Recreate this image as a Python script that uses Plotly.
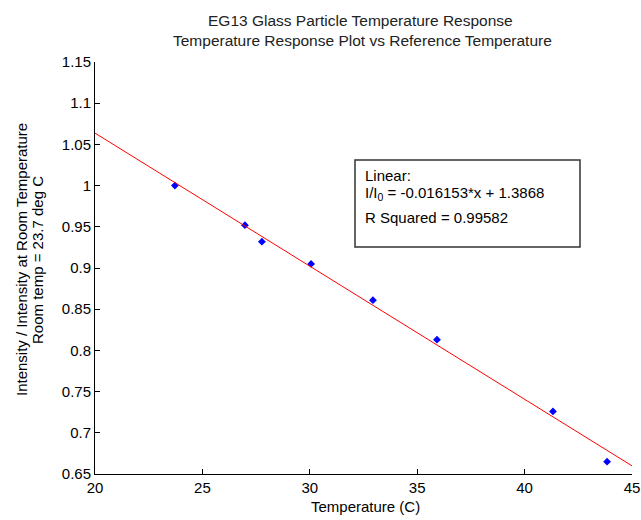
import plotly.graph_objects as go

# Data
temperature_c = [23.72, 26.98, 27.77, 30.06, 32.94, 35.92, 41.32, 43.84]
intensity_ratio = [1.000, 0.952, 0.932, 0.905, 0.861, 0.813, 0.726, 0.665]

fit_slope = -0.016153
fit_intercept = 1.3868
fit_r2 = 0.99582
fit_x = [20, 45]
fit_y = [fit_slope * x + fit_intercept for x in fit_x]

x_tick_vals = [20, 25, 30, 35, 40, 45]
x_tick_text = ["20", "25", "30", "35", "40", "45"]
y_tick_vals = [0.65, 0.7, 0.75, 0.8, 0.85, 0.9, 0.95, 1.0, 1.05, 1.1, 1.15]
y_tick_text = ["0.65", "0.7", "0.75", "0.8", "0.85", "0.9", "0.95", "1", "1.05", "1.1", "1.15"]

FONT = "Liberation Sans, Arial, sans-serif"

W, H = 641, 520
# plot area in window pixels
AX_L, AX_R, AX_T, AX_B = 95, 632, 62, 474
L, R, T, B = AX_L, W - AX_R, AX_T, H - AX_B
pw = AX_R - AX_L
ph = AX_B - AX_T

def px2paper_x(px):
    return (px - AX_L) / pw

def px2paper_y(py):
    return (AX_B - py) / ph

fig = go.Figure()
fig.add_trace(go.Scatter(x=temperature_c, y=intensity_ratio, mode="markers",
                         marker=dict(symbol="diamond", size=6, color="#0000ff"),
                         showlegend=False))
fig.add_trace(go.Scatter(x=fit_x, y=fit_y, mode="lines",
                         line=dict(color="#ff0000", width=1),
                         showlegend=False))

fig.add_shape(type="rect", xref="paper", yref="paper",
              x0=px2paper_x(355), x1=px2paper_x(580),
              y0=px2paper_y(247), y1=px2paper_y(160),
              line=dict(color="#333333", width=1.5), fillcolor="white", layer="above")

legend_lines = [
    ("Linear:", 175),
    ("I/I<sub>0</sub> = %.6f*x + %.4f" % (fit_slope, fit_intercept), 193),
    ("R Squared = %.5f" % fit_r2, 217),
]
for txt, py in legend_lines:
    fig.add_annotation(xref="paper", yref="paper", x=px2paper_x(363), y=px2paper_y(py),
                       text=txt, showarrow=False, xanchor="left", yanchor="middle",
                       font=dict(family=FONT, size=15, color="#000000"))

# y-axis title as two annotation lines
fig.add_annotation(xref="paper", yref="paper", x=px2paper_x(21), y=px2paper_y(260),
                   text="Intensity / Intensity at Room Temperature", textangle=-90,
                   showarrow=False, xanchor="center", yanchor="middle",
                   font=dict(family=FONT, size=15, color="#000000"))
fig.add_annotation(xref="paper", yref="paper", x=px2paper_x(37), y=px2paper_y(260),
                   text="Room temp = 23.7 deg C", textangle=-90,
                   showarrow=False, xanchor="center", yanchor="middle",
                   font=dict(family=FONT, size=15, color="#000000"))

# titles
fig.add_annotation(xref="paper", yref="paper", x=px2paper_x(360), y=px2paper_y(21),
                   text="EG13 Glass Particle Temperature Response",
                   showarrow=False, xanchor="center", yanchor="middle",
                   font=dict(family=FONT, size=15.5, color="#222222"))
fig.add_annotation(xref="paper", yref="paper", x=px2paper_x(362), y=px2paper_y(40),
                   text="Temperature Response Plot vs Reference Temperature",
                   showarrow=False, xanchor="center", yanchor="middle",
                   font=dict(family=FONT, size=15.5, color="#222222"))
fig.add_annotation(xref="paper", yref="paper", x=px2paper_x(365), y=px2paper_y(506),
                   text="Temperature (C)",
                   showarrow=False, xanchor="center", yanchor="middle",
                   font=dict(family=FONT, size=15, color="#000000"))

fig.update_layout(
    width=W, height=H,
    margin=dict(l=L, r=R, t=T, b=B, pad=0),
    paper_bgcolor="white", plot_bgcolor="white",
    font=dict(family=FONT, size=13, color="#000000"),
    xaxis=dict(range=[20, 45], tickvals=x_tick_vals, ticktext=x_tick_text, automargin=False,
               showgrid=False, zeroline=False, showline=True, linecolor="#000000", linewidth=1,
               ticks="inside", ticklen=5, tickcolor="#000000", tickfont=dict(size=15)),
    yaxis=dict(range=[0.65, 1.15], tickvals=y_tick_vals, ticktext=y_tick_text, automargin=False,
               showgrid=False, zeroline=False, showline=True, linecolor="#000000", linewidth=1,
               ticks="inside", ticklen=5, tickcolor="#000000", tickfont=dict(size=15)),
)

fig.write_html(
    "out.html",
    config={"displayModeBar": False},
    post_script="document.body.style.margin='0px';document.documentElement.style.overflow='hidden';document.body.style.overflow='hidden';",
)
